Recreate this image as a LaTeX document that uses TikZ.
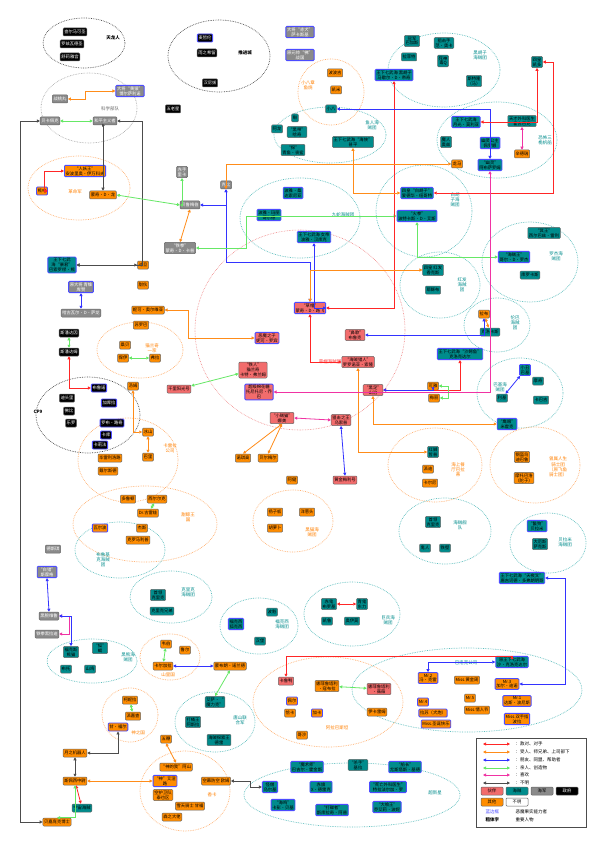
\documentclass[tikz,border=0pt]{standalone}
\usepackage{fontspec}
\setmainfont{Noto Sans CJK SC}
\usetikzlibrary{arrows.meta}
\definecolor{shred}{HTML}{F26C6C}
\definecolor{pteal}{HTML}{008C8C}
\definecolor{ngray}{HTML}{8A8A8A}
\definecolor{oorg}{HTML}{FF8C00}
\definecolor{lteal}{HTML}{5FBFBF}
\definecolor{lorg}{HTML}{FFB070}
\definecolor{lred}{HTML}{F08080}
\tikzset{
 bx/.style={rounded corners=1pt,draw=black!60,line width=0.5pt,font=\fontsize{4.3}{4.8}\selectfont,align=center,inner sep=1.2pt,minimum height=8pt},
 sh/.style={bx,fill=shred},
 pir/.style={bx,fill=pteal},
 nav/.style={bx,fill=ngray,text=white},
 gov/.style={bx,fill=black,text=white},
 oth/.style={bx,fill=oorg},
 unk/.style={bx,fill=white},
 st/.style={draw=blue!70,line width=0.9pt},
 elT/.style={draw=lteal,densely dotted,line width=0.7pt},
 elO/.style={draw=lorg,densely dotted,line width=0.7pt},
 elK/.style={draw=black!70,densely dotted,line width=0.7pt},
 elG/.style={draw=black!40,densely dotted,line width=0.6pt},
 elR/.style={draw=lred,densely dotted,line width=0.6pt},
 lb/.style={font=\fontsize{4.5}{5.2}\selectfont,align=center},
 ar/.style={line width=0.8pt,{Triangle[length=3pt,width=3pt]}-{Triangle[length=3pt,width=3pt]}},
 aR/.style={ar,red!85},
 aO/.style={ar,orange!90},
 aB/.style={ar,blue!80},
 aG/.style={ar,green!85!black!60},
 aP/.style={ar,magenta!80},
 aK/.style={ar,black!70},
}
\begin{document}
\begin{tikzpicture}[x=1pt,y=-1pt]
\useasboundingbox (0,0) rectangle (600,842);
\fill[white] (0,0) rectangle (600,842);
% ellipses
\draw[elK] (84,43) ellipse (41 and 25);
\draw[elK] (219,56) ellipse (51 and 36);
\draw[elG] (89,108) ellipse (48 and 35);
\draw[elO] (79,188) ellipse (51 and 32);
\draw[elT] (444,70) ellipse (56 and 37);
\draw[elO] (331,92) ellipse (33 and 33);
\draw[elT] (330,135) ellipse (56 and 28);
\draw[elT] (497,140) ellipse (60 and 38);
\draw[elT] (424,211) ellipse (48 and 46);
\draw[elT] (300,218) ellipse (60 and 40);
\draw[elT] (440,285) ellipse (40 and 33);
\draw[elT] (530,262) ellipse (48 and 40);
\draw[elR] (300,330) ellipse (105 and 100);
\draw[elT] (497,325) ellipse (33 and 27);
\draw[elT] (520,393) ellipse (43 and 35);
\draw[elO] (140,350) ellipse (43 and 28);
\draw[elK] (88,415) ellipse (52 and 38);
\draw[elO] (128,460) ellipse (50 and 42);
\draw[elO] (435,465) ellipse (47 and 37);
\draw[elO] (535,465) ellipse (45 and 38);
\draw[elO] (145,524) ellipse (72 and 38);
\draw[elT] (120,550) ellipse (45 and 28);
\draw[elO] (293,521) ellipse (40 and 31);
\draw[elT] (445,531) ellipse (46 and 33);
\draw[elT] (548,543) ellipse (38 and 30);
\draw[elT] (171,597) ellipse (41 and 26);
\draw[elT] (259,626) ellipse (39 and 28);
\draw[elT] (352,614) ellipse (48 and 32);
\draw[elT] (92,661) ellipse (45 and 22);
\draw[elO] (170,657) ellipse (30 and 23);
\draw[elO] (130,715) ellipse (28 and 27);
\draw[elT] (215,722) ellipse (40 and 30);
\draw[elO] (185,791) ellipse (45 and 40);
\draw[elO] (328,702) ellipse (75 and 45);
\draw[elT] (467,690) ellipse (115 and 42);
\draw[elT] (352,795) ellipse (108 and 32);
% labels
\node[lb] at (113,38) {\textbf{天龙人}};
\node[lb] at (245,53) {\textbf{推进城}};
\node[lb,black!60] at (110,109) {科学部队};
\node[lb,orange] at (75,192) {革命军};
\node[lb,pteal] at (480,55) {黑胡子\\海贼团};
\node[lb,orange] at (308,85) {小八章\\鱼烧};
\node[lb,pteal] at (372,125) {鱼人海\\贼团};
\node[lb,pteal] at (545,140) {恐怖三\\桅帆船};
\node[lb,pteal] at (455,200) {白胡\\子海\\贼团};
\node[lb,pteal] at (343,215) {九蛇海贼团};
\node[lb,pteal] at (462,285) {红发\\海贼\\团};
\node[lb,pteal] at (556,256) {罗杰海\\贼团};
\node[lb,red!80] at (330,362) {草帽海贼团};
\node[lb,pteal] at (515,323) {伦巴\\海贼\\团};
\node[lb,pteal] at (500,387) {巴基海\\贼团};
\node[lb,orange] at (152,348) {猫兰奇\\一家};
\node[lb] at (38,412) {\textbf{CP9}};
\node[lb,orange] at (170,448) {卡雷拉\\公司};
\node[lb,orange] at (458,470) {海上餐\\厅巴拉\\蒂};
\node[lb,orange] at (558,467) {曾属人生\\骑士团\\（原飞鱼\\骑士团）};
\node[lb,orange] at (188,517) {甜鲸王\\国};
\node[lb,pteal] at (103,560) {布鲁基\\克海贼\\团};
\node[lb,orange] at (312,532) {黑猫海\\贼团};
\node[lb,pteal] at (460,525) {海贼舰\\队};
\node[lb,pteal] at (565,542) {贝拉米\\海贼团};
\node[lb,pteal] at (188,592) {克里克\\海贼团};
\node[lb,pteal] at (282,624) {福克西\\海贼团};
\node[lb,pteal] at (388,620) {巨兵海\\贼团};
\node[lb,pteal] at (128,657) {黑熊海\\贼团};
\node[lb,orange] at (168,675) {山里国};
\node[lb,orange] at (138,733) {神之国};
\node[lb,pteal] at (240,720) {唐山联\\合军};
\node[lb,orange] at (212,795) {香卡};
\node[lb,orange] at (337,728) {阿拉巴斯坦};
\node[lb,pteal] at (466,663) {巴洛克公司};
\node[lb,pteal] at (435,793) {超新星};
% top
\node[gov] (c1) at (75,32) {查尔马可圣};
\node[gov] (c2) at (72,44) {罗兹瓦德圣};
\node[gov] (c3) at (70,57) {舒莉雅宫};
\node[gov,st] (mag) at (205,38) {麦哲伦};
\node[gov] (ryu) at (207,53) {雨之希留};
\node[gov] (han) at (210,83) {汉尼拔};
\node[gov] (go) at (173,109) {五老星};
\node[nav,st] (aka) at (300,32) {大将“赤犬”\\萨卡斯基};
\node[nav,st] (sen) at (300,55) {原元帅“佛”\\战国};
\node[nav] (sen2) at (60,99) {战桃丸};
\node[nav,st] (kiz) at (130,91) {大将“黄猿”\\博尔萨利诺};
\node[nav] (pac) at (50,121) {贝卡佩克};
\node[nav] (paci) at (105,121) {和平主义者};
\node[oth,st] (iva) at (85,171) {“人妖王”\\安波里奥·伊万科夫};
\node[oth,st] (xi) at (42,191) {熊电};
\node[oth] (dra) at (103,195) {蒙奇·D·龙};
\node[nav] (tas) at (182,172) {赤手\\里卡};
\node[nav] (kob) at (226,185) {克比};
\node[nav] (bel) at (190,205) {贝鲁梅伯};
\node[nav] (gar) at (180,248) {“铁拳”\\蒙奇·D·卡普};
\node[pir,st] (kum) at (62,265) {王下七武\\海“暴君”\\巴索罗缪·熊};
\node[oth] (dad) at (143,265) {达旦};
% BB
\node[pir] (bb1) at (412,41) {冠军\\巴加斯};
\node[pir] (bb2) at (444,43) {狙击手\\范·奥卡};
\node[pir] (bb3) at (409,57) {拉菲特};
\node[pir] (bb4) at (443,61) {死神\\毒Q};
\node[pir,st] (bb) at (394,75) {王下七武海 黑胡子\\马歇尔·D·帝奇};
\node[pir] (bb5) at (474,81) {斯特隆\\（马）};
\node[pir] (kai) at (537,62) {四皇\\凯多};
\node[oth] (pap) at (335,73) {波波吉};
\node[oth] (kem) at (336,90) {凯米};
\node[pir] (hac) at (331,109) {小八};
\node[pir] (jim) at (353,142) {王下七武海“海侠”\\甚平};
\node[pir] (arl) at (277,129) {阿龙};
\node[pir] (fs1) at (295,118) {啾};
\node[pir] (fs2) at (297,132) {“黑带”\\哈奇};
\node[pir] (fs3) at (293,150) {“探”\\青鱼·丧鲨};
\node[pir,st] (mor) at (466,122) {王下七武海\\月光·莫利亚};
\node[pir] (hog) at (522,121) {天才外科医生\\霍古巴克};
\node[pir] (oz) at (446,142) {魔人\\奥兹};
\node[pir,st] (per) at (490,143) {幽灵公主\\佩罗娜};
\node[oth] (cin) at (522,154) {辛德瑞};
\node[oth] (ryum) at (457,164) {龙马};
\node[pir,st] (abs) at (490,165) {“幽灵”\\阿布萨罗姆};
\node[pir,st] (wb) at (417,193) {四皇“白胡子”\\爱德华·纽哥特};
\node[pir,st] (ace) at (417,216) {“火拳”\\波特卡斯·D·艾斯};
\node[pir,st] (san) at (293,193) {波雅·桑\\达索尼亚};
\node[pir,st] (mar) at (269,215) {波雅·玛丽\\哥尔德};
\node[pir,st] (hk) at (314,237) {王下七武海 女帝\\波雅·汉库克};
\node[pir] (sha) at (433,270) {四皇 红发\\香克斯};
\node[pir] (yas) at (433,290) {耶稣布};
\node[pir] (ray) at (544,233) {“冥王”\\西尔巴兹·雷利};
\node[pir,st] (rog) at (514,257) {“海贼王”\\哥尔·D·罗杰};
\node[pir] (cro) at (530,275) {库罗卡斯};
% mid left
\node[nav,st] (aok) at (81,287) {原大将 青雉\\库赞};
\node[nav] (sar) at (81,313) {哈古瓦尔·D·萨龙};
\node[gov] (spi) at (69,333) {斯潘达因};
\node[gov] (spm) at (69,352) {斯潘达姆};
\node[oth] (tam) at (143,285) {甜伙};
\node[oth] (olv) at (148,310) {妮可·奥尔维亚};
\node[oth] (sro) at (141,325) {苏罗巴};
\node[oth] (sm1) at (125,345) {桑贝};
\node[oth] (sm2) at (123,358) {保伊};
\node[oth] (sm3) at (155,358) {弗拉};
\node[sh,st] (rob) at (267,338) {恶魔之子\\妮可·罗宾};
\node[sh] (fra) at (253,370) {“铁人”\\猫兰奇\\卡特·弗兰姆};
\node[sh,st] (cho) at (259,392) {超级棉花糖\\托尼托尼·乔\\巴};
\node[sh] (sun) at (179,389) {千里阳光号};
\node[oth] (tom) at (133,386) {汤姆};
\node[gov,st] (cp1) at (99,388) {布鲁诺};
\node[gov] (cp2) at (67,398) {迪头里};
\node[gov,st] (cp3) at (109,403) {加库拉};
\node[gov] (cp4) at (69,411) {佛比};
\node[gov] (cp5) at (71,423) {乐罗};
\node[gov,st] (cp6) at (112,423) {罗布·路奇};
\node[gov,st] (cp7) at (106,435) {卡库};
\node[gov,st] (cp8) at (100,445) {卡莉法};
\node[oth] (ice) at (148,432) {冰山};
\node[oth] (par) at (148,457) {巴里};
\node[oth] (ka1) at (110,458) {毕雷利洛路};
\node[oth] (ka2) at (108,471) {戴尔斯德};
% straw hats
\node[sh,st] (luf) at (310,308) {“草帽”\\蒙奇·D·路飞};
\node[sh] (bro) at (355,335) {“鼻歌”\\布鲁克};
\node[sh] (zor) at (358,362) {“海贼猎人”\\罗罗诺亚·索隆};
\node[sh] (san2) at (373,390) {“黑足”\\山治};
\node[sh] (nam) at (282,418) {“小贼猫”\\娜美};
\node[sh] (uso) at (341,420) {狙击之王\\乌索普};
\node[sh] (mer) at (345,480) {黄金梅利号};
\node[oth] (noj) at (243,458) {诺琪高};
\node[oth] (bel2) at (268,458) {贝尔梅尔};
\node[oth] (kur4) at (292,480) {阿健};
% right mid
\node[oth] (bui) at (484,314) {拉布};
\node[pir] (cr2) at (490,332) {克洛卡斯};
\node[pir,st] (crk) at (460,354) {王下七武海“沙鳄鱼”\\克洛克达尔};
\node[oth] (kay) at (433,386) {可雅};
\node[oth] (mer2) at (434,398) {梅丽};
\node[pir,st] (bug) at (525,370) {小丑\\巴基};
\node[pir] (moj) at (538,381) {摩奇};
\node[pir] (ric) at (502,398) {利基};
\node[pir] (cab) at (541,400) {卡巴吉};
\node[pir,st] (mih) at (507,424) {“鹰眼”\\米霍克};
\node[pir] (zef) at (433,452) {红脚\\哲普};
\node[oth] (pat) at (428,469) {派迪};
\node[oth] (car) at (430,483) {卡尔尼};
\node[oth] (ko1) at (522,457) {钢盔鸟\\迪巴鲁};
\node[oth] (ko2) at (524,478) {摩托巴洛\\（陀子）};
% lower left mid
\node[oth] (laf) at (128,499) {多鲁顿};
\node[oth] (lbn) at (157,499) {西尔尔克};
\node[oth] (kur) at (148,513) {Dr.古雷娃};
\node[oth,st] (wap) at (100,528) {瓦尔波};
\node[oth] (ces) at (142,528) {杰斯};
\node[oth] (kro) at (138,540) {克罗马利普};
\node[nav] (sms) at (53,549) {德斯琪};
\node[nav,st] (smo) at (47,572) {“白猎”\\斯摩格};
\node[pir] (b1) at (433,522) {首领\\克里克};
\node[pir] (b2) at (425,548) {鬼人};
\node[pir] (b3) at (445,548) {铁壁};
\node[pir,st] (bel3) at (537,526) {“鬣狗”\\贝拉米};
\node[pir] (sar2) at (540,544) {大厄斯\\萨克斯};
\node[oth] (kuro1) at (275,512) {扬子板};
\node[oth] (kuro2) at (307,512) {洋葱头};
\node[oth] (kuro3) at (275,528) {胡萝卜};
\node[pir] (kr1) at (158,595) {首领\\克里克};
\node[pir] (kr2) at (162,611) {克里克兄弟};
\node[nav] (dre) at (49,616) {黑腕维鲁};
\node[nav] (hin) at (47,634) {铁拳黑拉迪};
\node[pir] (fx1) at (71,652) {福克斯\\熊猫};
\node[pir] (fx2) at (100,648) {“狐”\\蝎};
\node[pir] (fx3) at (66,669) {布托};
\node[pir] (fx4) at (90,669) {山鸡};
\node[pir] (po) at (272,612) {波魁};
\node[pir,st] (fox) at (236,624) {福克西\\狐克西};
\node[pir] (ham) at (260,641) {汉堡};
\node[pir] (rb) at (329,604) {赤鬼\\布罗基};
\node[pir] (bl) at (362,604) {青鬼\\东力};
\node[pir] (kel) at (327,621) {凯鲁};
\node[pir] (oim) at (352,621) {奥伊莫};
\node[pir,st] (dof) at (522,578) {王下七武海“天夜叉”\\唐吉诃德·多弗朗明哥};
% sky
\node[oth] (sk1) at (166,644) {韦伯};
\node[oth] (sk2) at (185,650) {鲁尔};
\node[oth] (sk3) at (163,666) {卡尔加拉};
\node[oth] (nol) at (230,666) {蒙布朗·诺兰德};
\node[oth] (sk4) at (130,700) {柯妮拉};
\node[oth] (sk5) at (133,716) {派嘉查};
\node[oth,st] (sk6) at (118,727) {甘·福尔};
\node[pir] (sh1) at (215,702) {艾萨·“\\魔力克”};
\node[pir] (sh2) at (193,722) {打桶王\\阿斯拉};
\node[pir] (sh3) at (219,740) {海贼探索王\\德雷};
\node[oth] (sk7) at (166,739) {五鞭};
\node[oth] (moo) at (75,753) {月之机器人};
\node[oth] (spa) at (75,781) {斯佩西中尉};
\node[pir] (spp) at (82,808) {宇宙海贼};
\node[oth] (doc) at (57,822) {贝嘉庞克博士};
\node[oth] (en1) at (176,767) {“神的我”阿山};
\node[oth,st] (ene) at (165,781) {“神”艾涅\\路};
\node[oth] (en2) at (216,781) {空幕防空 欧姆};
\node[oth] (en3) at (163,795) {空护卫队\\泰也区};
\node[oth] (en4) at (190,806) {雪天骑士 甘福};
\node[oth] (en5) at (172,817) {森之大佬};
% alabasta
\node[sh] (kar) at (286,681) {卡鲁鸭};
\node[oth] (cob) at (327,686) {娜菲鲁塔利\\·寇布拉};
\node[sh] (viv) at (379,689) {娜菲鲁塔利\\·薇薇};
\node[oth,st] (pel) at (292,701) {佩尔};
\node[oth] (cha) at (290,713) {恰卡};
\node[oth,st] (kos) at (317,713) {加卡};
\node[oth] (iga) at (377,712) {伊卡雷姆};
\node[oth] (to1) at (302,735) {哥沙};
% baroque
\node[pir,st] (crk2) at (512,662) {原王下七武海\\沙·克洛克达尔};
\node[oth,st] (mr2) at (428,678) {Mr.2\\冯·克雷};
\node[oth] (mgw) at (467,680) {Miss.黄金周};
\node[oth,st] (mr3) at (507,684) {Mr.3\\加尔·迪诺};
\node[oth,st] (mr1) at (517,701) {Mr.1\\达斯·波尼斯};
\node[oth,st] (mr4) at (423,702) {Mr.4};
\node[oth] (mr5) at (470,698) {Mr.5};
\node[oth,st] (las) at (433,713) {拉苏（犬炮）};
\node[oth] (mv) at (477,710) {Miss.情人节};
\node[oth,st] (mdf) at (517,719) {Miss.双手指\\波拉};
\node[oth,st] (mmc) at (436,724) {Miss.圣诞快乐};
% supernova
\node[pir] (sn1) at (358,765) {“杀手”\\基拉};
\node[pir,st] (sn2) at (307,767) {“魔术师”\\巴吉尔·霍金斯};
\node[pir,st] (sn3) at (405,767) {“船长”\\尤斯塔斯·基德};
\node[pir,st] (sn4) at (270,787) {怪僧\\乌尔基};
\node[pir,st] (sn5) at (321,787) {赤旗\\X·德雷克};
\node[pir,st] (sn6) at (388,787) {“死亡外科医生”\\特拉法尔加·罗};
\node[pir,st] (sn7) at (283,805) {“海鸣”\\卡彭·贝基};
\node[pir,st] (sn8) at (332,810) {“打碟者”\\斯库拉奇·阿普};
\node[pir,st] (sn9) at (387,807) {“大喰王”\\乔艾莉·波妮};
% edges
\draw[aO] (sen2) -- ++(25,0) |- (kiz);
\draw[aG] (pac) -- (paci);
\draw[aK] (paci.east) -- ++(25,0) |- (kum.east);
\draw[aK] (pac.west) -- ++(-20,0) |- (doc.west);
\draw[aR] (iva.west) -- ++(-20,0) |- (xi);
\draw[aK] (dra) |- (paci.south);
\draw[aG] (dra.east) -- (bel.west);
\draw[aG] (tas) |- (bel);
\draw[aB] (bel.east) -| (kob);
\draw[aO] (bel.south) -- (gar.north);
\draw[aK] (dad) -- (kum);
\draw[aB] (aok) -- (sar);
\draw[aG] (spi) -- (spm);
\draw[aR] (spm.south) |- (cp1.west);
\draw[aO] (olv) -- ++(40,0) |- (rob);
\draw[aG] (sm2) -- (sm3);
\draw[aO] (ice) -- (par);
\draw[aG] (sun) -- (fra);
\draw[aO] (tom) |- (ice);
\draw[aB] (luf.north) -- ++(0,-40) -| (kob);
\draw[aG] (ace.west) -- ++(-150,0) |- (gar.east);
\draw[aR] (bb.south) |- (luf.east);
\draw[aO] (jim.south) |- (wb.west);
\draw[aB] (hac.east) -| (abs.north);
\draw[aR] (kai) |- (mor);
\draw[aP] (hog) -- (cin);
\draw[aR] (wb.east) -- ++(120,0) |- (kai.east);
\draw[aB] (hk.south) |- (luf.east);
\draw[aG] (rog.west) -| (ace.south);
\draw[aO] (sha.west) -| (luf.north);
\draw[aB] (bug) -- (ric);
\draw[aO] (bui) -- (cr2);
\draw[aR] (zor.west) -| (luf.south);
\draw[aB] (bro.east) -| (bui.south);
\draw[aR] (san2) -| (crk);
\draw[aB] (san2.east) -| (kay);
\draw[aG] (kay.east) -- ++(10,0) |- (mer2);
\draw[aP] (uso.west) -- (nam.east);
\draw[aO] (nam.south) -- (noj.north);
\draw[aO] (nam.south) -- (bel2.north);
\draw[aB] (uso.south) -- (mer.north);
\draw[aO] (zor.south) |- (zef.west);
\draw[aO] (mih) -| (san2.south);
\draw[aG] (lbn) -- (kur);
\draw[aB] (smo.south) -- (dre.north);
\draw[aP] (hin.east) -- ++(10,0) |- (dre);
\draw[aB] (dre) -| (fx1);
\draw[aG] (sk1) -- (sk3);
\draw[aB] (sk3) -- (nol);
\draw[aG] (nol.south) -- (sh1.north);
\draw[aG] (sk4) -- (sk5);
\draw[aO] (en1.north) -- (sk7.south);
\draw[aK] (moo) -- (spa);
\draw[aR] (spa) -- (spp);
\draw[aG] (doc.north) -| (spa.south);
\draw[aK] (moo.east) -| (sk6.south);
\draw[aO] (spa.east) -- (ene.west);
\draw[aK] (en2.east) -- ++(20,0) |- (sn4.west);
\draw[aR] (rb) -- (bl);
\draw[aR] (kar.north) -- ++(0,-20) -| (crk2.north);
\draw[aG] (cob) -- (viv);
\draw[aB] (mr2.north) |- (crk2.west);
\draw[aB] (dof.east) -- ++(20,0) |- (mr3);
\draw[aO] (kob.south) |- (ryum.west);
\draw[aP] (abs.south) |- (cho.east);
% legend
\draw[black!70,line width=0.8pt] (476,738) rectangle (586,827);
\draw[aR] (483,744) -- (510,744); \node[lb,anchor=west] at (512,744) {：敌对、对手};
\draw[aO] (483,752) -- (510,752); \node[lb,anchor=west] at (512,752) {：受人、师兄弟、上司部下};
\draw[aB] (483,760) -- (510,760); \node[lb,anchor=west] at (512,760) {：朋友、同盟、帮助者};
\draw[aG] (483,768) -- (510,768); \node[lb,anchor=west] at (512,768) {：亲人、创造物};
\draw[aP] (483,775) -- (510,775); \node[lb,anchor=west] at (512,775) {：喜欢};
\draw[aK] (483,783) -- (510,783); \node[lb,anchor=west] at (512,783) {：不明};
\node[sh,minimum width=22pt] at (492,791) {伙伴};
\node[pir,minimum width=22pt] at (517,791) {海贼};
\node[nav,minimum width=22pt,text=black] at (542,791) {海军};
\node[gov,minimum width=22pt] at (567,791) {政府};
\node[oth,minimum width=22pt] at (492,802) {其他};
\node[unk,minimum width=22pt] at (517,802) {不明};
\node[lb,blue!70,anchor=west] at (482,812) {蓝边框};
\node[lb,anchor=west] at (512,812) {恶魔果实能力者};
\node[lb,anchor=west] at (482,820) {\textbf{粗体字}};
\node[lb,anchor=west] at (512,820) {重要人物};
\end{tikzpicture}
\end{document}
